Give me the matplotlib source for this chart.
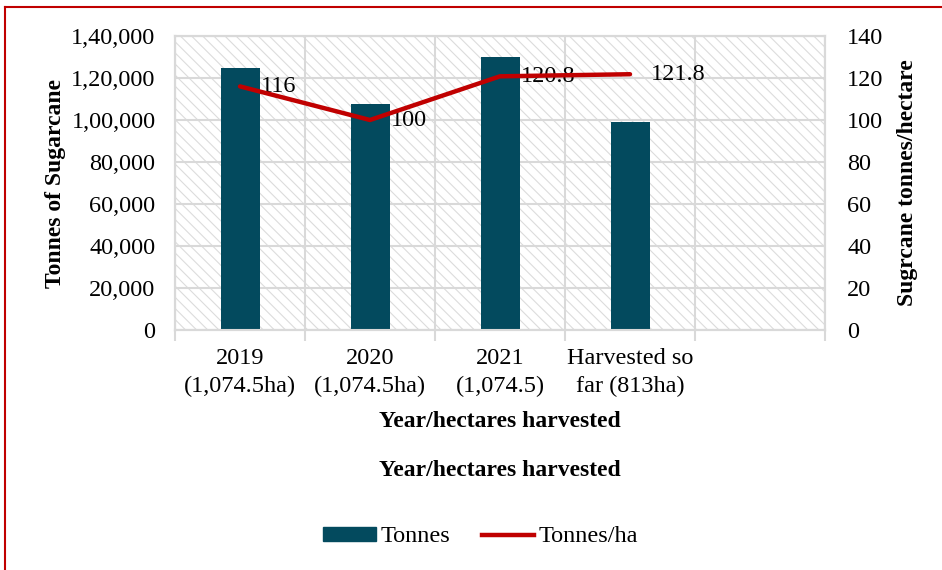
import matplotlib
matplotlib.use("Agg")
import matplotlib.pyplot as plt
from matplotlib.patches import Rectangle, Patch
from matplotlib.lines import Line2D

categories = ["2019\n(1,074.5ha)", "2020\n(1,074.5ha)", "2021\n(1,074.5)", "Harvested so\nfar (813ha)", ""]
tonnes = [125000, 107500, 130000, 99000]
tonnes_per_ha = [116, 100, 120.8, 121.8]
left_ticks = [0, 20000, 40000, 60000, 80000, 100000, 120000, 140000]
left_tick_labels = ["0", "20,000", "40,000", "60,000", "80,000", "1,00,000", "1,20,000", "1,40,000"]
right_ticks = [0, 20, 40, 60, 80, 100, 120, 140]

plt.rcParams['font.family'] = ['Liberation Serif', 'DejaVu Serif']
plt.rcParams['hatch.linewidth'] = 0.8
plt.rcParams['hatch.color'] = '#DCDCDC'

W, H = 942, 570
fig = plt.figure(figsize=(W/100, H/100), dpi=100)
ax = fig.add_axes([175/W, (H-330)/H, 650/W, 294/H])
ax2 = ax.twinx()

bar_color = '#034A5E'
line_color = '#C00000'
grid_color = '#D9D9D9'
FS = 17.5
LFS = 17

n = len(categories)
xs = list(range(len(tonnes)))
ax.set_xlim(-0.5, n - 0.5)
ax.set_ylim(0, 140000)
ax2.set_ylim(0, 140)

# hatched background
ax.add_patch(Rectangle((0, 0), 1, 1, transform=ax.transAxes, fill=False,
                       hatch='\\\\\\', edgecolor='#DCDCDC', linewidth=0, zorder=0))

ax.bar(xs, tonnes, width=0.3, color=bar_color, zorder=3)
ax2.plot(xs, tonnes_per_ha, color=line_color, linewidth=3.2, zorder=4, solid_capstyle='round')
for x, v in zip(xs, tonnes_per_ha):
    ax2.annotate(f"{v:g}", (x, v), xytext=(15, 0), textcoords='offset points',
                 ha='left', va='center', fontsize=FS)

# grid
ax.set_yticks(left_ticks)
ax.set_yticklabels(left_tick_labels, fontsize=FS)
ax.yaxis.grid(True, color=grid_color, linewidth=1.5, zorder=1)
ax.set_axisbelow(True)
ax.set_xticks([i + 0.5 for i in range(-1, n)])
ax.set_xticklabels([])
ax.xaxis.grid(True, color=grid_color, linewidth=1.5)
ax.tick_params(axis='x', which='major', length=8, color=grid_color, width=1.5)
ax.set_xticks(range(n), minor=True)
ax.set_xticklabels(categories, minor=True, fontsize=FS, linespacing=1.4)
ax.tick_params(axis='x', which='minor', length=0, pad=13)
ax.tick_params(axis='y', length=0, pad=14)

ax2.set_yticks(right_ticks)
ax2.set_yticklabels([str(t) for t in right_ticks], fontsize=FS)
ax2.tick_params(axis='y', length=0, pad=16)

for a in (ax, ax2):
    for s in a.spines.values():
        s.set_color(grid_color)
        s.set_linewidth(1.5)

ax.set_ylabel("Tonnes of Sugarcane", fontsize=LFS, fontweight='bold', labelpad=4)
ax2.set_ylabel("Sugrcane tonnes/hectare", fontsize=LFS, fontweight='bold', labelpad=10)
ax.set_xlabel("Year/hectares harvested", fontsize=LFS, fontweight='bold', labelpad=10)

fig.text(500/W, 1 - 470/H, "Year/hectares harvested", fontsize=LFS, fontweight='bold',
         ha='center', va='center')

handles = [Patch(facecolor=bar_color, edgecolor=bar_color),
           Line2D([], [], color=line_color, linewidth=3.2)]
fig.legend(handles, ["Tonnes", "Tonnes/ha"], loc='center', bbox_to_anchor=(481/W, 1 - 537/H),
           ncol=2, frameon=False, fontsize=FS, handlelength=2.15, handleheight=0.53,
           columnspacing=1.3, handletextpad=0.2)

# red border
fig.add_artist(Line2D([5/W, 1], [1 - 7/H, 1 - 7/H], color='#C00000', linewidth=1.5, transform=fig.transFigure))
fig.add_artist(Line2D([5/W, 5/W], [0, 1 - 7/H], color='#C00000', linewidth=1.5, transform=fig.transFigure))

fig.savefig("out.png", dpi=100)
